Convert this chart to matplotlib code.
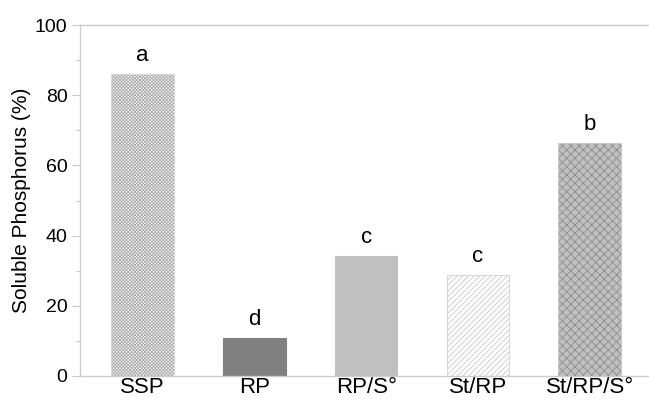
import numpy as np
import matplotlib
matplotlib.use('Agg')
import matplotlib.pyplot as plt
from matplotlib.ticker import MultipleLocator

treatments = ['SSP', 'RP', 'RP/S°', 'St/RP', 'St/RP/S°']
soluble_p = [85.9, 10.8, 34.2, 28.7, 66.3]
letters = ['a', 'd', 'c', 'c', 'b']

fills = ['white', '#808080', '#c0c0c0', 'white', '#c0c0c0']
hatch_colors = ['#a8a8a8', '#808080', '#c0c0c0', '#c8c8c8', '#8c8c8c']
hatches = ['xxxxxxxxxx', None, None, '//////', 'xxxx']
outlines = ['#d8d8d8', '#808080', '#c0c0c0', '#d8d8d8', '#c8c8c8']

plt.rcParams['font.family'] = ['Liberation Sans', 'DejaVu Sans']
plt.rcParams['hatch.linewidth'] = 0.6

fig = plt.figure(figsize=(6.49, 4.0), dpi=100)
ax = fig.add_axes([80/649, 24/400, 1 - 80/649, 351/400])

x = np.arange(len(treatments))
width = 0.56
for i in range(len(x)):
    ax.bar(x[i], soluble_p[i], width, color=fills[i], edgecolor=hatch_colors[i],
           hatch=hatches[i], linewidth=0, zorder=2)
    ax.bar(x[i], soluble_p[i], width, fill=False, edgecolor=outlines[i],
           linewidth=0.8, zorder=3)
    ax.annotate(letters[i], (x[i], soluble_p[i]), xytext=(0, 6),
                textcoords='offset points', ha='center', va='bottom', fontsize=16)

ax.set_xlim(-0.56, 4.53)
ax.set_ylim(0, 100)
ax.set_xticks(x)
ax.set_xticklabels(treatments, fontsize=16)
ax.yaxis.set_major_locator(MultipleLocator(20))
ax.yaxis.set_minor_locator(MultipleLocator(10))
ax.tick_params(axis='y', which='major', length=6, width=0.8, color='#c8c8c8',
               labelsize=14, pad=3)
ax.tick_params(axis='y', which='minor', length=3, width=0.8, color='#c8c8c8')
ax.tick_params(axis='x', length=0, pad=1)
ax.set_ylabel('Soluble Phosphorus (%)', fontsize=15, labelpad=3)

for s in ['left', 'top', 'bottom']:
    ax.spines[s].set_color('#cccccc')
    ax.spines[s].set_linewidth(1.0)
ax.spines['right'].set_visible(False)

fig.savefig('out.png', dpi=100)
